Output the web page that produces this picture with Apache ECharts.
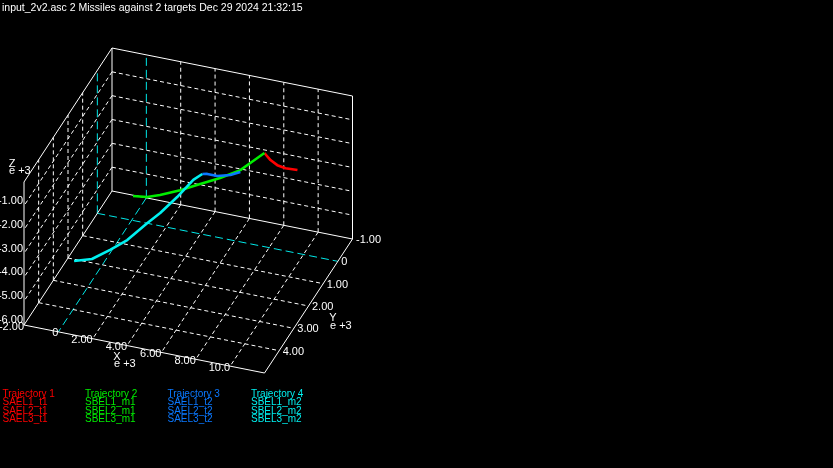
<!DOCTYPE html>
<html><head><meta charset="utf-8">
<script src="https://cdn.jsdelivr.net/npm/echarts@6/dist/echarts.min.js"></script>
<style>html,body{margin:0;padding:0;background:#000}#c{width:833px;height:468px}</style>
</head><body><div id="c"></div>
<script>
// ---------- data (values in e+3 units) ----------
const titleText = 'input_2v2.asc 2 Missiles against 2 targets Dec 29 2024 21:32:15';
const xTicks = [-2, 0, 2, 4, 6, 8, 10, 12];
const yTicks = [-1, 0, 1, 2, 3, 4, 5];
const zTicks = [-6, -5, -4, -3, -2, -1, 0];
const xTickLabels = ['-2.00', '0', '2.00', '4.00', '6.00', '8.00', '10.0'];
const yTickLabels = ['-1.00', '0', '1.00', '2.00', '3.00', '4.00'];
const zTickLabels = ['-6.00', '-5.00', '-4.00', '-3.00', '-2.00', '-1.00'];
const seriesNames = ['Trajectory 1', 'Trajectory 2', 'Trajectory 3', 'Trajectory 4'];
const seriesMembers = [
  ['SAEL1_t1', 'SAEL2_t1', 'SAEL3_t1'],
  ['SBEL1_m1', 'SBEL2_m1', 'SBEL3_m1'],
  ['SAEL1_t2', 'SAEL2_t2', 'SAEL3_t2'],
  ['SBEL1_m2', 'SBEL2_m2', 'SBEL3_m2']
];
// [x, y, z]
const traj1 = [[10.93, 1.50, -0.92], [10.08, 1.32, -1.13], [9.50, 1.20, -1.20], [9.01, 1.09, -1.16], [8.58, 1.00, -1.01]];
const traj2 = [[-0.75, -0.97, -6.00], [0.25, -0.76, -5.70], [1.17, -0.56, -5.30], [2.60, -0.26, -4.61], [4.02, 0.04, -3.87],
               [5.44, 0.34, -3.13], [6.87, 0.64, -2.31], [7.58, 0.79, -1.77], [8.58, 1.00, -1.01]];
const traj3 = [[7.18, 1.00, -2.01], [6.71, 1.13, -2.08], [6.10, 1.30, -2.05], [5.62, 1.43, -1.91], [5.39, 1.50, -1.88]];
const traj4 = [[-1.56, 2.10, -5.97], [-0.59, 2.02, -5.82], [0.39, 1.93, -5.38], [1.32, 1.85, -4.91], [2.40, 1.76, -4.13],
               [3.11, 1.70, -3.66], [4.03, 1.62, -2.93], [4.90, 1.54, -2.16], [5.39, 1.50, -1.88]];
const trajectories = [traj1, traj2, traj3, traj4];
const colors = ['#ff0000', '#00ee00', '#0a78ff', '#00f0f0'];

// ---------- 3D box projection (layout) ----------
const VIEW = { origin: [112, 191], ex: [240.5, 48], ey: [-88, 134], ez: [0, -143] };
const xmin = xTicks[0], xmax = xTicks[xTicks.length - 1];
const ymin = yTicks[0], ymax = yTicks[yTicks.length - 1];
const zmin = zTicks[0], zmax = zTicks[zTicks.length - 1];
function proj(x, y, z) {
  const u = (x - xmin) / (xmax - xmin), v = (y - ymin) / (ymax - ymin), w = (z - zmin) / (zmax - zmin);
  return [VIEW.origin[0] + u * VIEW.ex[0] + v * VIEW.ey[0] + w * VIEW.ez[0],
          VIEW.origin[1] + u * VIEW.ex[1] + v * VIEW.ey[1] + w * VIEW.ez[1]];
}
const segs = []; // [x1,y1,x2,y2,kind] kind 0 solid,1 dashed,2 zero
function seg(a, b, kind) { const p = proj(...a), q = proj(...b); segs.push([p[0], p[1], q[0], q[1], kind]); }
// dashed grid
xTicks.slice(1, -1).forEach(x => {
  const k = x === 0 ? 2 : 1;
  seg([x, ymin, zmin], [x, ymin, zmax], k);
  seg([x, ymin, zmin], [x, ymax, zmin], k);
});
zTicks.slice(1, -1).forEach(z => {
  seg([xmin, ymin, z], [xmax, ymin, z], 1);
  seg([xmin, ymin, z], [xmin, ymax, z], 1);
});
yTicks.slice(1, -1).forEach(y => {
  const k = y === 0 ? 2 : 1;
  seg([xmin, y, zmin], [xmin, y, zmax], k);
  seg([xmin, y, zmin], [xmax, y, zmin], k);
});
// solid edges
seg([xmin, ymin, zmin], [xmax, ymin, zmin], 0);
seg([xmin, ymin, zmax], [xmax, ymin, zmax], 0);
seg([xmin, ymin, zmin], [xmin, ymin, zmax], 0);
seg([xmax, ymin, zmin], [xmax, ymin, zmax], 0);
seg([xmin, ymin, zmax], [xmin, ymax, zmax], 0);
seg([xmin, ymax, zmin], [xmin, ymax, zmax], 0);
seg([xmin, ymin, zmin], [xmin, ymax, zmin], 0);
seg([xmin, ymax, zmin], [xmax, ymax, zmin], 0);
seg([xmax, ymin, zmin], [xmax, ymax, zmin], 0);

// tick label anchors [px, py, align, text]
const labels = [];
zTickLabels.forEach((t, i) => { const p = proj(xmin, ymax, zTicks[i]); labels.push([p[0] - 1, p[1] - 5, 'right', t]); });
xTickLabels.forEach((t, i) => { const p = proj(xTicks[i], ymax, zmin); labels.push([p[0], p[1] + 1.5, 'right', t]); });
yTickLabels.forEach((t, i) => { const p = proj(xmax, yTicks[i], zmin); labels.push([p[0] + 3.5, p[1] + 1, 'left', t]); });
// axis names
const zTop = proj(xmin, ymax, zmax);
labels.push([zTop[0] - 12, zTop[1] - 18, 'center', 'Z']);
labels.push([zTop[0] - 15, zTop[1] - 11, 'left', 'e +3']);
labels.push([117, 357, 'center', 'X']);
labels.push([114, 364, 'left', 'e +3']);
labels.push([333, 318, 'center', 'Y']);
labels.push([330, 325.5, 'left', 'e +3']);

const FONT = '"Liberation Sans", Arial, sans-serif';
const series = [{
  type: 'custom', coordinateSystem: 'cartesian2d', silent: true, z: 1,
  encode: { x: [0, 2], y: [1, 3] },
  data: segs,
  renderItem(params, api) {
    const p = api.coord([api.value(0), api.value(1)]);
    const q = api.coord([api.value(2), api.value(3)]);
    const k = api.value(4);
    return { type: 'line', shape: { x1: p[0], y1: p[1], x2: q[0], y2: q[1] },
      style: { stroke: k === 2 ? '#00e8e8' : '#ffffff', lineWidth: 1,
               lineDash: k === 0 ? null : (k === 2 ? [8, 4] : [4, 3]) } };
  }
}, {
  type: 'custom', coordinateSystem: 'cartesian2d', silent: true, z: 3,
  encode: { x: 0, y: 1 },
  data: labels,
  renderItem(params, api) {
    const p = api.coord([api.value(0), api.value(1)]);
    const it = labels[params.dataIndex];
    return { type: 'text', x: p[0], y: p[1],
      style: { text: it[3], fill: '#ffffff', font: '11px ' + FONT, align: it[2], verticalAlign: 'middle' } };
  }
}];
trajectories.forEach((t, i) => {
  series.push({ type: 'line', name: seriesNames[i], z: 2, silent: true, showSymbol: false, symbol: 'none',
    data: t.map(p => proj(p[0], p[1], p[2])),
    lineStyle: { color: colors[i], width: 2.6 } });
});

const graphic = [{ type: 'text', left: 2, top: 2.5, style: { text: titleText, fill: '#ffffff', font: '10.5px ' + FONT } }];
const legendX = [2.5, 85, 167.5, 251];
seriesNames.forEach((n, i) => {
  [n].concat(seriesMembers[i]).forEach((t, r) => {
    graphic.push({ type: 'text', x: legendX[i], y: 394 + r * 8.4,
      style: { text: t, fill: colors[i], font: '10px ' + FONT, verticalAlign: 'middle' } });
  });
});

const chart = echarts.init(document.getElementById('c'), null, { renderer: 'canvas' });
chart.setOption({
  backgroundColor: '#000000',
  animation: false,
  grid: { left: 0, right: 0, top: 0, bottom: 0 },
  xAxis: { type: 'value', min: 0, max: 833, show: false },
  yAxis: { type: 'value', min: 0, max: 468, inverse: true, show: false },
  series: series,
  graphic: graphic
});
</script></body></html>
